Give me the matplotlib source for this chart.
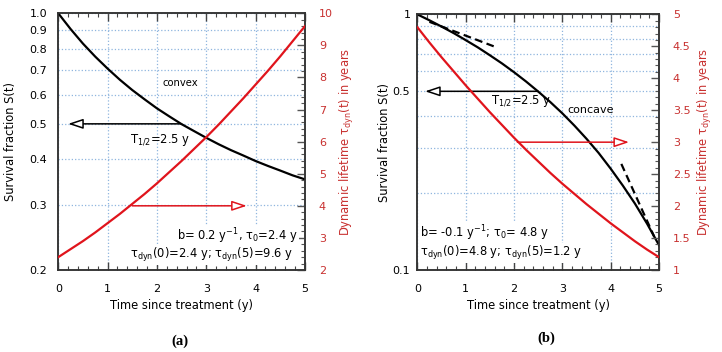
import matplotlib
matplotlib.use('Agg')
import matplotlib.pyplot as plt
from matplotlib.ticker import MultipleLocator, FixedLocator, NullLocator, FormatStrFormatter

# 数据
t_years = [0, 0.25, 0.5, 0.75, 1, 1.25, 1.5, 1.75, 2, 2.25, 2.5,
           2.75, 3, 3.25, 3.5, 3.75, 4, 4.25, 4.5, 4.75, 5]

# (a) convex
s_convex = [1.0, 0.906, 0.827, 0.762, 0.707, 0.659, 0.618, 0.583, 0.551, 0.524, 0.499,
            0.478, 0.458, 0.440, 0.424, 0.410, 0.396, 0.384, 0.373, 0.362, 0.353]
tau_convex = [2.40, 2.65, 2.90, 3.17, 3.46, 3.75, 4.06, 4.37, 4.70, 5.05, 5.40,
              5.77, 6.14, 6.53, 6.94, 7.35, 7.78, 8.21, 8.66, 9.13, 9.60]

# (b) concave
s_concave = [1.0, 0.948, 0.896, 0.845, 0.793, 0.743, 0.692, 0.643, 0.594, 0.546, 0.499,
             0.454, 0.410, 0.367, 0.326, 0.287, 0.249, 0.214, 0.182, 0.152, 0.125]
tau_concave = [4.80, 4.56, 4.33, 4.11, 3.89, 3.68, 3.47, 3.27, 3.07, 2.88, 2.70,
               2.52, 2.35, 2.19, 2.03, 1.88, 1.73, 1.59, 1.45, 1.32, 1.20]

# dashed tangents in (b)
tan_early_t = [0.25, 1.58]
tan_early_s = [0.935, 0.75]
tan_late_t = [4.22, 4.9]
tan_late_s = [0.26, 0.135]

RED = '#e0141c'
RED_TXT = '#c8302f'
GRID = '#8fb5df'
FS = 8
LFS = 8.3

plt.rcParams['font.family'] = ['DejaVu Sans']
plt.rcParams['mathtext.fontset'] = 'dejavusans'

fig = plt.figure(figsize=(7.22, 3.52), dpi=100)
ax1 = fig.add_axes([0.0807, 0.233, 0.3417, 0.7292])
ax2 = fig.add_axes([0.578, 0.233, 0.3348, 0.7262])


def style_axes(ax, axr, ypad):
    ax.set_xlim(0, 5)
    ax.xaxis.set_major_locator(MultipleLocator(1))
    ax.xaxis.set_minor_locator(MultipleLocator(0.2))
    ax.tick_params(axis='x', which='major', direction='in', length=6, width=1,
                   color='#444444', top=True, labelsize=FS, pad=10)
    ax.tick_params(axis='x', which='minor', direction='in', length=3, width=0.8,
                   color='#444444', top=True)
    ax.tick_params(axis='y', which='both', length=0, labelsize=FS, pad=ypad)
    ax.grid(True, axis='x', which='major', color=GRID, linestyle=':', linewidth=0.9)
    ax.grid(True, axis='y', which='major', color=GRID, linestyle=':', linewidth=0.9)
    ax.set_xlabel('Time since treatment (y)', fontsize=LFS, labelpad=4)
    axr.tick_params(axis='y', which='major', direction='in', length=6, width=1,
                    color='#555555', labelcolor=RED_TXT, labelsize=FS, pad=10)
    axr.tick_params(axis='y', which='minor', direction='in', length=3, width=0.8,
                    color='#555555')
    for a in (ax, axr):
        for sp in a.spines.values():
            sp.set_color('#333333')
            sp.set_linewidth(1.1)


# ---------- (a) ----------
ax1r = ax1.twinx()
ax1.set_yscale('log')
ax1.set_ylim(0.2, 1.0)
yt1 = [0.2, 0.3, 0.4, 0.5, 0.6, 0.7, 0.8, 0.9, 1.0]
ax1.yaxis.set_major_locator(FixedLocator(yt1))
ax1.yaxis.set_minor_locator(NullLocator())
ax1.set_yticklabels([f'{v:.1f}' for v in yt1])
ax1r.set_ylim(2, 10)
ax1r.yaxis.set_major_locator(FixedLocator([2, 3, 4, 5, 6, 7, 8, 9, 10]))
ax1r.yaxis.set_minor_locator(MultipleLocator(0.2))
ax1r.yaxis.set_major_formatter(FormatStrFormatter('%g'))
style_axes(ax1, ax1r, 8)

ax1.plot(t_years, s_convex, color='black', lw=1.6, zorder=4)
ax1r.plot(t_years, tau_convex, color=RED, lw=1.6, zorder=3)

arrow_style = '-|>,head_length=0.9,head_width=0.3'
ax1.annotate('', xy=(0.2, 0.5), xytext=(2.5, 0.5),
             arrowprops=dict(arrowstyle=arrow_style,
                             fc='white', ec='black', lw=1.1, shrinkA=0, shrinkB=0))
ax1r.annotate('', xy=(3.82, 4.0), xytext=(1.5, 4.0),
              arrowprops=dict(arrowstyle=arrow_style,
                              fc='white', ec=RED, lw=1.1, shrinkA=0, shrinkB=0))

ax1r.text(0.493, 0.728, 'convex', transform=ax1.transAxes, fontsize=FS - 0.8,
          ha='center', va='center')
ax1r.text(0.291, 0.506, 'T$_{1/2}$=2.5 y', transform=ax1.transAxes, fontsize=LFS,
          ha='left', va='center')
box = dict(facecolor='white', edgecolor='none', pad=1.0)
ax1r.text(0.972, 0.132, 'b= 0.2 y$^{-1}$, τ$_0$=2.4 y', transform=ax1.transAxes,
          fontsize=LFS, ha='right', va='center', bbox=box)
ax1r.text(0.951, 0.058, 'τ$_{\\rm dyn}$(0)=2.4 y; τ$_{\\rm dyn}$(5)=9.6 y',
          transform=ax1.transAxes, fontsize=LFS, ha='right', va='center', bbox=box)

ax1.set_ylabel('Survival fraction S(t)', fontsize=LFS, labelpad=9)
ax1r.set_ylabel('Dynamic lifetime τ$_{\\rm dyn}$(t) in years', fontsize=LFS,
                color=RED_TXT, labelpad=4)

# ---------- (b) ----------
ax2r = ax2.twinx()
ax2.set_yscale('log')
ax2.set_ylim(0.1, 1.0)
yt2 = [0.1, 0.2, 0.3, 0.4, 0.5, 0.6, 0.7, 0.8, 0.9, 1.0]
ax2.yaxis.set_major_locator(FixedLocator(yt2))
ax2.yaxis.set_minor_locator(NullLocator())
ax2.set_yticklabels(['0.1', '', '', '', '0.5', '', '', '', '', '1'])
ax2r.set_ylim(1, 5)
ax2r.yaxis.set_major_locator(FixedLocator([1, 1.5, 2, 2.5, 3, 3.5, 4, 4.5, 5]))
ax2r.yaxis.set_minor_locator(MultipleLocator(0.1))
ax2r.yaxis.set_major_formatter(FormatStrFormatter('%g'))
style_axes(ax2, ax2r, 5)

ax2.plot(t_years, s_concave, color='black', lw=1.6, zorder=4)
ax2.plot(tan_early_t, tan_early_s, color='black', lw=1.6, ls=(0, (3.5, 2)), zorder=4)
ax2.plot(tan_late_t, tan_late_s, color='black', lw=1.6, ls=(0, (3.5, 2)), zorder=4)
ax2r.plot(t_years, tau_concave, color=RED, lw=1.6, zorder=3)

ax2.annotate('', xy=(0.16, 0.5), xytext=(2.5, 0.5),
             arrowprops=dict(arrowstyle=arrow_style,
                             fc='white', ec='black', lw=1.1, shrinkA=0, shrinkB=0))
ax2r.annotate('', xy=(4.38, 3.0), xytext=(2.07, 3.0),
              arrowprops=dict(arrowstyle=arrow_style,
                              fc='white', ec=RED, lw=1.1, shrinkA=0, shrinkB=0))

ax2r.text(0.305, 0.661, 'T$_{1/2}$=2.5 y', transform=ax2.transAxes, fontsize=LFS,
          ha='left', va='center')
ax2r.text(0.718, 0.626, 'concave', transform=ax2.transAxes, fontsize=FS,
          ha='center', va='center')
ax2r.text(0.011, 0.145, 'b= -0.1 y$^{-1}$; τ$_0$= 4.8 y', transform=ax2.transAxes,
          fontsize=LFS, ha='left', va='center', bbox=box)
ax2r.text(0.011, 0.066, 'τ$_{\\rm dyn}$(0)=4.8 y; τ$_{\\rm dyn}$(5)=1.2 y',
          transform=ax2.transAxes, fontsize=LFS, ha='left', va='center', bbox=box)

ax2.set_ylabel('Survival fraction S(t)', fontsize=LFS, labelpad=1)
ax2r.set_ylabel('Dynamic lifetime τ$_{\\rm dyn}$(t) in years', fontsize=LFS,
                color=RED_TXT, labelpad=4)

fig.text(0.249, 0.031, '(a)', fontsize=10.5, fontweight='bold', family='Liberation Serif',
         ha='center', va='center')
fig.text(0.756, 0.040, '(b)', fontsize=10.5, fontweight='bold', family='Liberation Serif',
         ha='center', va='center')

fig.savefig('out.png', dpi=100)
